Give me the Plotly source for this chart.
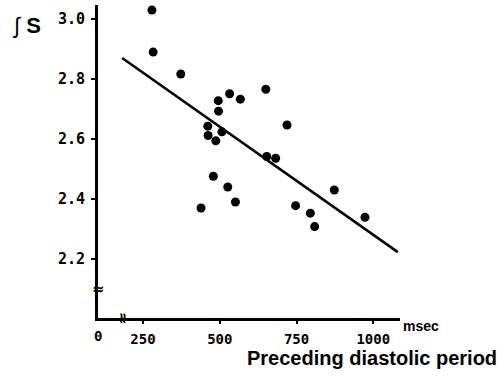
import plotly.graph_objects as go

# Data
diastolic_ms = [279, 283, 373, 495, 532, 567, 650, 496, 461, 462, 507, 487, 719,
                653, 682, 479, 526, 439, 551, 747, 795, 809, 873, 973]
integral_s = [3.03, 2.89, 2.817, 2.728, 2.751, 2.733, 2.766, 2.693, 2.643, 2.612, 2.624, 2.594, 2.647,
              2.542, 2.536, 2.476, 2.44, 2.37, 2.39, 2.378, 2.353, 2.308, 2.43, 2.339]
fit_x = [182, 1080]
fit_y = [2.87, 2.223]
x_ticks = [250, 500, 750, 1000]
y_ticks = [2.2, 2.4, 2.6, 2.8, 3.0]

X0, X1 = 103.4, 1087.0
Y0, Y1 = 2.0033, 3.047

fig = go.Figure()
fig.add_trace(go.Scatter(x=fit_x, y=fit_y, mode="lines",
                         line=dict(color="black", width=2.5), showlegend=False, hoverinfo="skip"))
fig.add_trace(go.Scatter(x=diastolic_ms, y=integral_s, mode="markers",
                         marker=dict(color="black", size=9), showlegend=False))

tickfont = dict(family="DejaVu Sans Mono", size=15, color="black", weight="bold")
xtickfont = dict(family="DejaVu Sans Mono", size=14, color="black", weight="bold")
fig.update_xaxes(range=[X0, X1], tickvals=x_ticks, ticktext=[str(v) for v in x_ticks],
                 showgrid=False, zeroline=False, showline=True, linecolor="black", linewidth=3,
                 ticks="outside", ticklen=6, tickwidth=1, tickcolor="rgba(0,0,0,0)",
                 tickfont=xtickfont, ticklabeloverflow="allow",
                 minor=dict(tickvals=x_ticks, ticks="outside", ticklen=3, tickwidth=1.5,
                            tickcolor="black", showgrid=False))
fig.update_yaxes(range=[Y0, Y1], tickvals=y_ticks, ticktext=["%.1f" % v for v in y_ticks],
                 showgrid=False, zeroline=False, showline=True, linecolor="black", linewidth=3,
                 ticks="outside", ticklen=4, tickwidth=1.5, tickcolor="black",
                 tickfont=tickfont, ticklabelstandoff=3)

def px(xp):
    return (xp - 98) / 302

def py(yp):
    return (318 - yp) / 313

anns = [
    dict(x=X0, y=0, xref="x", yref="paper", text="0", showarrow=False, yanchor="top",
         yshift=-8, font=xtickfont),
    dict(x=px(401), y=py(326), xref="paper", yref="paper", text="msec", showarrow=False,
         xanchor="left", yanchor="middle",
         font=dict(family="Liberation Sans", size=14, color="black", weight="bold")),
    dict(x=px(499), y=py(358), xref="paper", yref="paper", text="Preceding diastolic period",
         showarrow=False, xanchor="right", yanchor="middle",
         font=dict(family="Liberation Sans", size=20, color="black", weight="bold")),
    dict(x=px(10), y=py(25), xref="paper", yref="paper",
         text="<i>∫</i> <b>S</b>", showarrow=False, xanchor="left", yanchor="middle",
         font=dict(family="Liberation Sans", size=22, color="black")),
    # axis break marks
    dict(x=X0, y=2.1, xref="x", yref="y", text="≈", showarrow=False,
         font=dict(family="DejaVu Sans", size=15, color="black", weight="bold")),
    dict(x=185, y=Y0, xref="x", yref="y", text="≈", showarrow=False, textangle=90,
         font=dict(family="DejaVu Sans", size=15, color="black", weight="bold")),
]
fig.update_layout(annotations=anns)

fig.update_layout(width=504, height=378, margin=dict(l=98, r=104, t=5, b=60),
                  plot_bgcolor="white", paper_bgcolor="white")
fig.write_html("out.html")
